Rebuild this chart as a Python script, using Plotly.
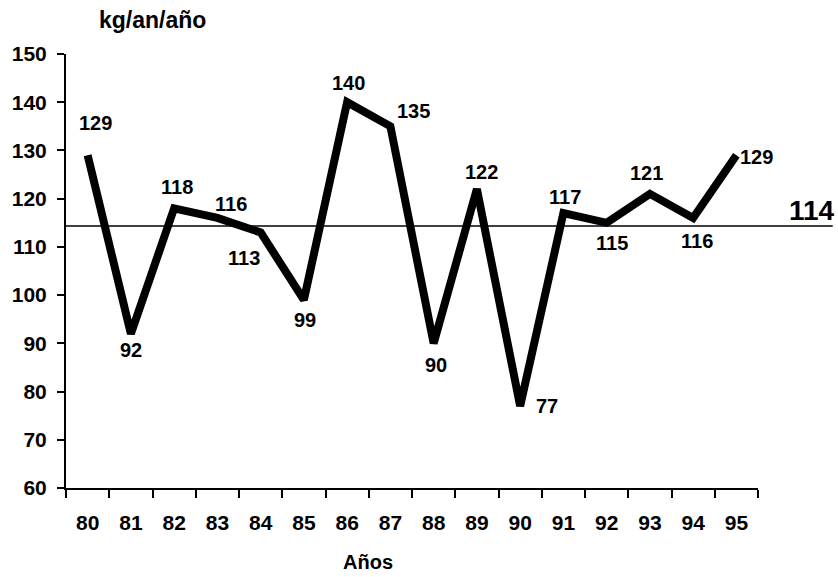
import plotly.graph_objects as go

# Annual consumption series
years = ["80", "81", "82", "83", "84", "85", "86", "87",
         "88", "89", "90", "91", "92", "93", "94", "95"]
values = [129, 92, 118, 116, 113, 99, 140, 135,
          90, 122, 77, 117, 115, 121, 116, 129]
y_ticks = [60, 70, 80, 90, 100, 110, 120, 130, 140, 150]

# Pixel offsets of each value label relative to its point (dx, dy; dy up)
label_dx = [8, 0, 3, 14, -17, 1, 1, 23, 2, 5, 27, 2, 5, -3, 4, 20]
label_dy = [32, -16, 21, 14, -26, -20, 19, 15, -22, 17, 0, 16, -20, 21, -23, -2]

mean_value = sum(values) / len(values)

FONT = "Liberation Sans, Arial, sans-serif"

fig = go.Figure()
fig.add_trace(go.Scatter(
    x=years, y=values, mode="lines",
    line=dict(color="black", width=8),
    hoverinfo="skip", showlegend=False,
))

# Average reference line spanning past the plot area
fig.add_shape(type="line", xref="paper", yref="y",
              x0=0, x1=1.108, y0=mean_value, y1=mean_value,
              line=dict(color="black", width=1.5))

annotations = []
for i, (v, dx, dy) in enumerate(zip(values, label_dx, label_dy)):
    # category axis: position given as the category index
    annotations.append(dict(
        x=i, y=v, xref="x", yref="y", text=str(v), showarrow=False,
        xanchor="center", yanchor="middle", xshift=dx, yshift=dy,
        font=dict(family=FONT, size=20, color="black", weight="bold"),
    ))
annotations.append(dict(
    x=1.078, y=mean_value, xref="paper", yref="y",
    text=f"{mean_value:.0f}", showarrow=False, yshift=16,
    xanchor="center", yanchor="middle",
    font=dict(family=FONT, size=28, color="black", weight="bold"),
))
annotations.append(dict(
    x=0.1257, y=1.078, xref="paper", yref="paper", text="kg/an/año",
    showarrow=False, xanchor="center", yanchor="middle",
    font=dict(family=FONT, size=23, color="black", weight="bold"),
))
annotations.append(dict(
    x=0.4364, y=-0.1705, xref="paper", yref="paper", text="Años",
    showarrow=False, xanchor="center", yanchor="middle",
    font=dict(family=FONT, size=20, color="black", weight="bold"),
))

fig.update_layout(
    width=838, height=577,
    margin=dict(l=66, r=80, t=54, b=89),
    paper_bgcolor="white", plot_bgcolor="white",
    annotations=annotations,
    xaxis=dict(
        type="category", range=[-0.5, 15.5],
        tickson="boundaries", ticks="outside", ticklen=8, tickwidth=2,
        tickcolor="black", showline=True, linecolor="black", linewidth=2,
        showgrid=False, zeroline=False, ticklabelstandoff=15,
        tickfont=dict(family=FONT, size=21, color="black", weight="bold"),
    ),
    yaxis=dict(
        range=[60, 150], tickvals=y_ticks, ticks="outside", ticklen=7,
        tickwidth=2, tickcolor="black", showline=True, linecolor="black",
        linewidth=2, showgrid=False, zeroline=False, ticklabelstandoff=6,
        tickfont=dict(family=FONT, size=21, color="black", weight="bold"),
    ),
)

fig.write_html("out.html")
